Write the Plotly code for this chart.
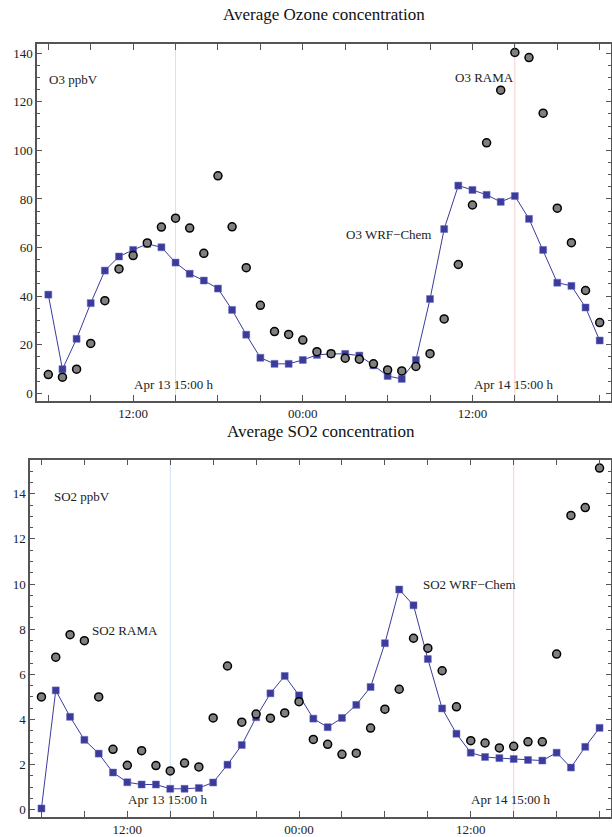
import plotly.graph_objects as go

# hours since Apr 13 00:00 (hourly, 06:00 Apr 13 .. 21:00 Apr 14)
hours = list(range(6, 46))

o3_wrf = [40.6, 9.9, 22.4, 37.1, 50.5, 56.3, 59.0, 61.5, 60.1, 53.8,
          49.2, 46.4, 43.1, 34.3, 24.1, 14.6, 12.1, 12.1, 13.7, 15.8,
          16.2, 16.2, 15.5, 11.5, 7.1, 5.9, 13.7, 38.8, 67.6, 85.5,
          83.7, 81.7, 78.8, 81.2, 71.8, 59.0, 45.5, 44.2, 35.3, 21.7]
o3_rama = [7.7, 6.6, 9.9, 20.5, 38.1, 51.2, 56.7, 61.9, 68.4, 72.1,
           68.0, 57.6, 89.5, 68.5, 51.7, 36.2, 25.4, 24.2, 21.9, 17.1,
           16.3, 14.4, 14.0, 12.1, 9.6, 9.2, 11.0, 16.3, 30.6, 53.0,
           77.5, 103.1, 124.8, 140.3, 138.2, 115.3, 76.2, 62.0, 42.3, 29.1]
so2_wrf = [0.06, 5.29, 4.12, 3.10, 2.49, 1.65, 1.22, 1.12, 1.12, 0.93,
           0.93, 0.97, 1.21, 2.0, 2.87, 4.10, 5.16, 5.93, 5.07, 4.04,
           3.66, 4.07, 4.65, 5.44, 7.38, 9.76, 9.06, 6.68, 4.49, 3.37,
           2.53, 2.34, 2.29, 2.25, 2.21, 2.18, 2.53, 1.87, 2.79, 3.63]
so2_rama = [5.0, 6.76, 7.76, 7.49, 5.0, 2.68, 1.97, 2.62, 1.96, 1.72,
            2.07, 1.90, 4.07, 6.37, 3.88, 4.24, 4.06, 4.29, 4.79, 3.12,
            2.90, 2.46, 2.51, 3.62, 4.46, 5.34, 7.60, 7.16, 6.16, 4.56,
            3.06, 2.96, 2.74, 2.81, 3.01, 3.01, 6.90, 13.04, 13.39, 15.14]

x_tickvals = [12, 24, 36]
x_ticktext = ["12:00", "00:00", "12:00"]
o3_yticks = [0, 20, 40, 60, 80, 100, 120, 140]
so2_yticks = [0, 2, 4, 6, 8, 10, 12, 14]
marker_hours = [15, 39]  # Apr 13 15:00, Apr 14 15:00

FONT = "Liberation Serif"
BLUE = "#3b3b9c"
GRAY = "#808080"
FRAME = "#555555"

fig = go.Figure()

def add_pair(wrf, rama, xa, ya):
    fig.add_trace(go.Scatter(x=hours, y=wrf, mode="lines+markers", xaxis=xa, yaxis=ya,
                             line=dict(color=BLUE, width=1),
                             marker=dict(symbol="square", size=7, color=BLUE,
                                         line=dict(width=0.5, color="#6a6ac0")),
                             showlegend=False))
    fig.add_trace(go.Scatter(x=hours, y=rama, mode="markers", xaxis=xa, yaxis=ya,
                             marker=dict(symbol="circle", size=8, color=GRAY,
                                         line=dict(width=1.5, color="black")),
                             showlegend=False))

add_pair(o3_wrf, o3_rama, "x", "y")
add_pair(so2_wrf, so2_rama, "x2", "y2")

W, H = 612, 837
def xdom(l, r):
    return [l / W, r / W]
def ydom(t, b):
    return [1 - b / H, 1 - t / H]

xcommon = dict(range=[5.2, 45.8], tickvals=x_tickvals, ticktext=x_ticktext,
               ticks="inside", ticklen=6, tickwidth=1, tickcolor=FRAME,
               minor=dict(tick0=0, dtick=3, ticks="inside", ticklen=6, tickwidth=1, tickcolor=FRAME),
               showline=True, linecolor=FRAME, linewidth=1.5, mirror="ticks",
               showgrid=False, zeroline=False, automargin=False,
               tickfont=dict(family=FONT, size=13, color="#222"))
ycommon = dict(ticks="inside", ticklen=5, tickwidth=1, tickcolor=FRAME,
               showline=True, linecolor=FRAME, linewidth=1.5, mirror="ticks",
               showgrid=False, zeroline=False, automargin=False,
               tickfont=dict(family=FONT, size=13, color="#222"))

fig.update_layout(
    width=W, height=H, margin=dict(l=0, r=0, t=0, b=0),
    paper_bgcolor="white", plot_bgcolor="white",
    xaxis=dict(domain=xdom(37, 611), anchor="y", **xcommon),
    yaxis=dict(domain=ydom(44, 401), anchor="x", range=[-3.2, 143.8], tickvals=o3_yticks,
               minor=dict(dtick=5, tick0=0, ticks="inside", ticklen=3, tickwidth=1, tickcolor=FRAME),
               **ycommon),
    xaxis2=dict(domain=xdom(30, 611), anchor="y2", **xcommon),
    yaxis2=dict(domain=ydom(459.7, 816.8), anchor="x2", range=[-0.31, 15.51], tickvals=so2_yticks,
                minor=dict(dtick=0.5, tick0=0, ticks="inside", ticklen=3, tickwidth=1, tickcolor=FRAME),
                **ycommon),
)

for xa, ya in [("x", "y"), ("x2", "y2")]:
    for h, c in zip(marker_hours, ["#cfe3fa", "#f8cccc"]):
        fig.add_shape(type="line", xref=xa, yref=ya + " domain", x0=h, x1=h, y0=0, y1=1,
                      line=dict(color=c, width=1), layer="below")

def ann(text, x, y, xa, ya, size=13):
    fig.add_annotation(text=text, x=x, y=y, xref=xa, yref=ya, showarrow=False,
                       xanchor="center", yanchor="middle",
                       font=dict(family=FONT, size=size, color="#222"))

ann("O3 ppbV", 7.79, 129, "x", "y")
ann("O3 RAMA", 36.88, 130, "x", "y")
ann("O3 WRF\u2212Chem", 30.03, 65.2, "x", "y")
ann("Apr 13 15:00 h", 14.87, 3.7, "x", "y")
ann("Apr 14 15:00 h", 38.93, 3.7, "x", "y")

ann("SO2 ppbV", 8.82, 13.88, "x2", "y2")
ann("SO2 RAMA", 11.85, 7.94, "x2", "y2")
ann("SO2 WRF\u2212Chem", 35.92, 9.98, "x2", "y2")
ann("Apr 13 15:00 h", 14.84, 0.47, "x2", "y2")
ann("Apr 14 15:00 h", 38.82, 0.47, "x2", "y2")

fig.add_annotation(text="Average Ozone concentration", x=324 / W, y=1 - 15 / H, xref="paper", yref="paper",
                   showarrow=False, xanchor="center", yanchor="middle",
                   font=dict(family=FONT, size=17, color="#111"))
fig.add_annotation(text="Average SO2 concentration", x=321 / W, y=1 - 431.7 / H, xref="paper", yref="paper",
                   showarrow=False, xanchor="center", yanchor="middle",
                   font=dict(family=FONT, size=17, color="#111"))

fig.write_html("out.html", config={"displayModeBar": False},
               post_script="document.body.style.margin='0';document.body.style.overflow='hidden';")
